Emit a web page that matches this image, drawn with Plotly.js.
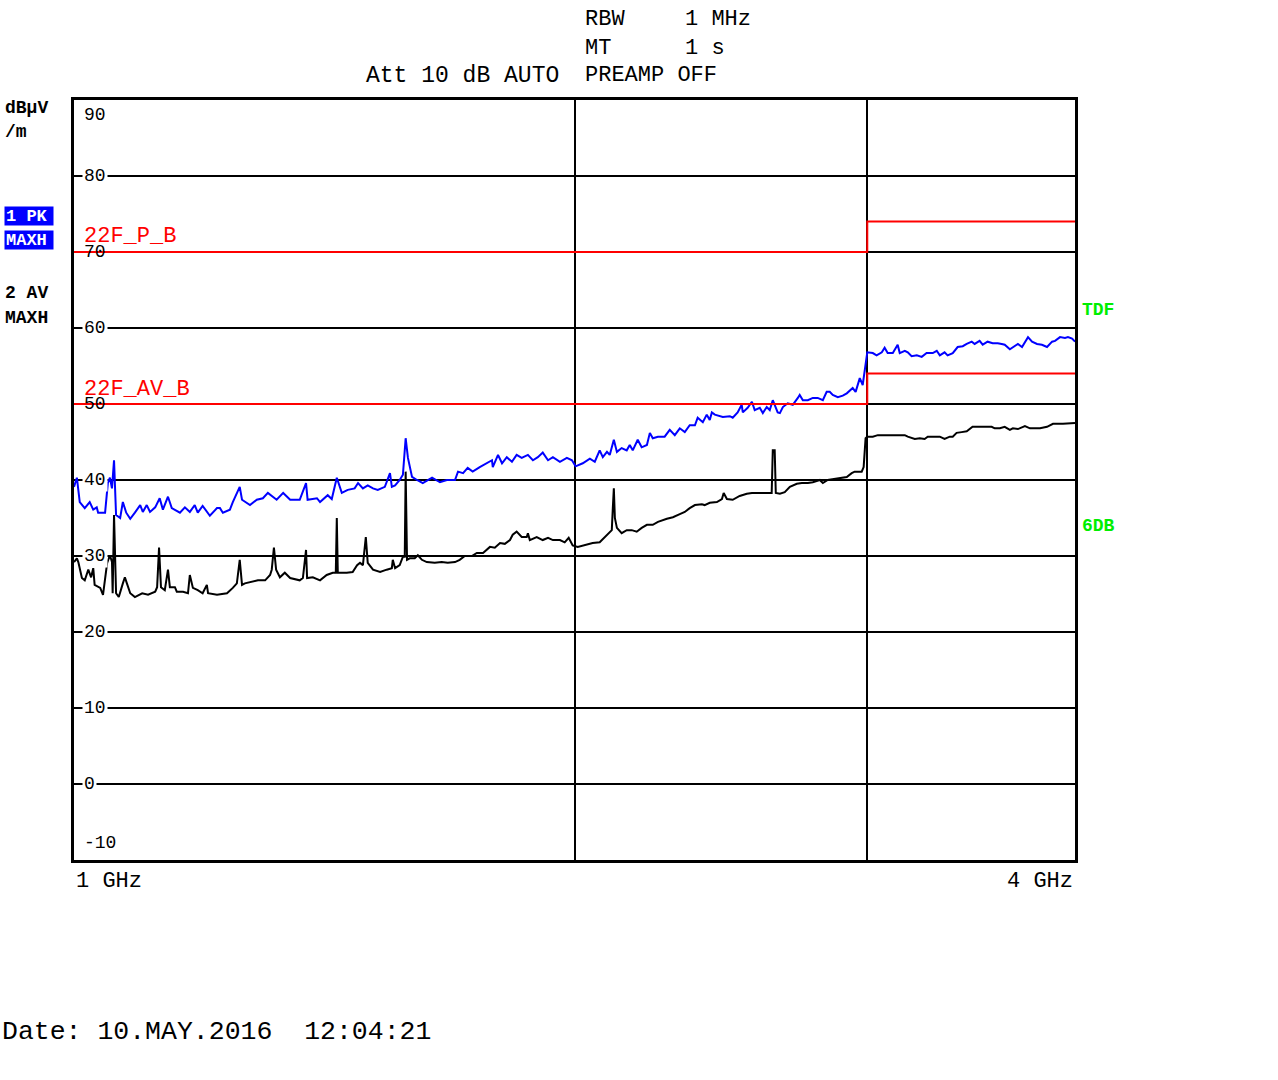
<!DOCTYPE html>
<html><head><meta charset="utf-8">
<script src="https://cdn.plot.ly/plotly-3.0.1.min.js"></script>
<style>html,body{margin:0;padding:0;background:#fff}#chart{width:1278px;height:1080px}</style>
</head><body><div id="chart"></div>
<script>
// Trace 1: PK MAXH (blue), frequency in GHz, level in dBµV/m
const pkFreqGHz = [
1.000,1.004,1.008,1.015,1.022,1.027,1.032,1.034,1.044,1.048,
1.051,1.054,1.057,1.060,1.066,1.070,1.075,1.081,1.088,1.096,
1.100,1.106,1.111,1.119,1.126,1.131,1.139,1.145,1.158,1.166,
1.174,1.182,1.187,1.195,1.207,1.219,1.224,1.229,1.241,1.246,
1.258,1.262,1.276,1.288,1.299,1.308,1.324,1.336,1.349,1.367,
1.379,1.382,1.400,1.406,1.421,1.429,1.439,1.449,1.461,1.475,
1.482,1.492,1.502,1.513,1.523,1.538,1.549,1.553,1.560,1.570,
1.577,1.583,1.588,1.597,1.608,1.621,1.642,1.660,1.676,1.695,
1.702,1.714,1.725,1.737,1.754,1.771,1.784,1.786,1.799,1.809,
1.821,1.834,1.846,1.859,1.875,1.888,1.901,1.914,1.928,1.941,
1.960,1.979,1.993,2.003,2.023,2.043,2.057,2.071,2.080,2.092,
2.100,2.112,2.121,2.135,2.150,2.159,2.168,2.183,2.195,2.211,
2.220,2.229,2.245,2.266,2.282,2.298,2.314,2.330,2.346,2.363,
2.372,2.389,2.402,2.412,2.419,2.429,2.456,2.480,2.490,2.507,
2.521,2.525,2.542,2.557,2.567,2.585,2.596,2.610,2.621,2.632,
2.639,2.650,2.658,2.669,2.687,2.706,2.725,2.732,2.744,2.763,
2.782,2.801,2.821,2.836,2.848,2.860,2.880,2.900,2.916,2.940,
2.952,2.969,2.981,2.989,2.998,3.000,3.023,3.039,3.061,3.073,
3.086,3.108,3.129,3.138,3.160,3.173,3.190,3.213,3.235,3.257,
3.285,3.303,3.317,3.339,3.353,3.377,3.400,3.424,3.443,3.467,
3.481,3.505,3.520,3.544,3.569,3.594,3.614,3.629,3.655,3.680,
3.696,3.717,3.748,3.769,3.795,3.821,3.848,3.875,3.891,3.918,
3.945,3.961,3.984,4.000];
const pkLevel = [
39.1,40.3,37.1,36.3,37.1,36.1,36.4,35.7,35.7,39.6,
40.3,38.9,42.6,35.4,35.0,37.1,35.7,34.9,35.7,36.7,
35.8,36.7,35.8,36.4,37.6,36.1,37.8,36.3,35.7,36.4,
35.8,36.7,35.7,36.6,35.3,36.3,36.3,35.7,36.1,37.1,
39.1,37.4,36.7,37.4,37.6,38.3,37.4,38.3,37.4,37.4,
39.6,37.4,37.6,37.1,38.0,37.5,40.3,38.3,38.7,38.9,
39.6,38.9,39.3,38.9,38.7,39.1,40.9,39.1,39.3,40.0,
40.7,45.5,42.9,40.4,40.0,39.6,40.3,39.7,40.0,40.0,
41.1,40.9,41.6,41.1,41.7,42.2,42.6,41.7,43.3,42.2,
43.0,42.4,43.3,42.9,43.3,42.6,43.0,43.6,42.6,43.0,
42.4,42.9,42.6,41.8,42.2,42.8,42.4,43.9,43.0,43.7,
43.3,45.3,43.7,44.2,43.9,44.6,43.9,45.3,44.3,44.6,
46.2,45.5,45.7,45.7,46.6,45.9,46.8,46.3,47.2,47.2,
48.2,47.6,48.6,47.9,48.9,48.6,48.3,48.4,48.2,48.9,
49.9,48.9,49.5,50.3,49.2,49.5,48.8,49.6,49.2,50.5,
49.9,48.9,48.8,49.6,50.1,49.9,50.8,51.2,50.5,50.5,
50.8,50.8,50.5,51.6,51.6,51.2,50.9,51.1,51.4,52.1,
51.6,53.4,52.5,54.5,56.2,56.8,56.7,56.4,56.8,57.4,
56.7,56.7,57.8,56.7,57.0,56.8,56.3,56.4,56.2,56.7,
56.7,57.0,56.4,56.8,56.4,56.7,57.5,57.6,57.9,58.2,
57.9,58.3,57.8,58.2,58.0,58.0,57.9,57.8,57.2,57.6,
57.9,57.5,58.8,58.2,57.9,57.8,57.5,58.2,58.3,58.8,
58.7,58.8,58.6,58.2];

// Trace 2: AV MAXH (black)
const avFreqGHz = [
1.000,1.004,1.006,1.011,1.015,1.020,1.024,1.027,1.029,1.037,
1.041,1.047,1.051,1.054,1.055,1.057,1.060,1.064,1.070,1.073,
1.076,1.081,1.088,1.099,1.108,1.119,1.122,1.125,1.128,1.134,
1.139,1.142,1.150,1.153,1.163,1.171,1.174,1.179,1.187,1.195,
1.202,1.204,1.219,1.236,1.246,1.253,1.258,1.262,1.267,1.279,
1.290,1.303,1.312,1.315,1.319,1.323,1.330,1.339,1.349,1.367,
1.373,1.379,1.381,1.392,1.406,1.419,1.431,1.437,1.439,1.441,
1.459,1.471,1.480,1.486,1.492,1.498,1.502,1.513,1.528,1.542,
1.553,1.555,1.560,1.570,1.577,1.581,1.583,1.586,1.592,1.603,
1.610,1.619,1.630,1.648,1.664,1.678,1.695,1.706,1.718,1.735,
1.747,1.762,1.771,1.779,1.791,1.804,1.816,1.829,1.836,1.846,
1.859,1.872,1.875,1.880,1.898,1.914,1.928,1.941,1.960,1.973,
1.984,1.995,2.009,2.023,2.051,2.071,2.094,2.106,2.109,2.112,
2.115,2.121,2.135,2.150,2.165,2.180,2.195,2.211,2.229,2.245,
2.273,2.292,2.314,2.330,2.346,2.363,2.386,2.395,2.412,2.436,
2.453,2.459,2.470,2.490,2.514,2.539,2.557,2.574,2.596,2.621,
2.628,2.632,2.639,2.643,2.658,2.676,2.695,2.721,2.740,2.763,
2.782,2.809,2.821,2.840,2.888,2.916,2.936,2.948,2.977,2.985,
2.989,2.993,3.000,3.023,3.044,3.082,3.160,3.173,3.204,3.226,
3.248,3.262,3.294,3.317,3.339,3.363,3.377,3.395,3.419,3.443,
3.471,3.520,3.564,3.579,3.605,3.629,3.655,3.670,3.696,3.732,
3.758,3.784,3.811,3.848,3.880,3.934,3.984,4.000];
const avLevel = [
29.2,29.7,29.2,27.1,26.8,28.2,27.2,28.4,26.2,25.8,
24.9,29.1,30.1,29.2,25.1,35.4,25.1,24.6,26.4,27.2,
26.4,25.1,24.6,25.1,24.9,25.3,25.9,31.1,25.9,25.5,
28.2,25.9,25.9,25.3,25.3,25.1,27.5,25.8,25.5,25.1,
26.2,25.1,24.9,25.1,25.8,26.4,29.5,26.2,26.4,26.6,
26.8,26.8,27.5,28.2,31.1,28.2,27.2,27.8,27.1,26.8,
27.1,30.8,27.1,27.2,26.8,27.5,27.8,27.8,35.0,27.8,
27.8,27.9,28.8,29.1,28.8,32.5,29.1,28.2,27.9,28.2,
28.4,29.5,28.4,28.8,29.9,29.9,41.1,29.5,29.7,29.7,
30.1,29.5,29.2,29.1,29.2,29.1,29.2,29.5,30.0,30.0,
30.4,30.4,30.8,31.2,31.1,31.7,31.6,32.1,32.8,33.2,
32.5,32.5,33.0,32.1,32.5,32.1,32.4,32.1,32.1,31.8,
32.4,31.4,31.2,31.4,31.7,31.8,32.8,33.4,36.3,38.9,
35.0,33.7,33.0,33.4,33.4,33.2,33.7,34.1,34.1,34.5,
34.9,35.1,35.5,35.8,36.3,36.7,36.8,36.7,37.0,37.1,
37.5,38.3,37.5,37.4,37.9,38.2,38.3,38.3,38.3,38.3,
38.3,43.9,43.9,38.3,38.2,38.4,39.1,39.5,39.6,39.6,
39.7,40.0,39.6,40.0,40.3,40.4,40.9,41.1,41.1,41.7,
43.6,45.5,45.7,45.7,45.9,45.9,45.9,45.7,45.4,45.5,
45.4,45.7,45.7,45.7,45.4,45.7,45.7,46.2,46.3,46.4,
47.0,47.0,47.0,46.8,46.8,47.0,46.6,46.8,46.7,47.1,
46.8,46.8,46.8,47.0,47.4,47.4,47.5,47.5];

// Limit lines
const limitFreqGHz = [1, 3, 3, 4];
const limitPeak = [70, 70, 74, 74];
const limitAvg = [50, 50, 54, 54];
const limitPeakName = '22F_P_B';
const limitAvgName = '22F_AV_B';

// Axis
const yGridVals = [0, 10, 20, 30, 40, 50, 60, 70, 80];
const yTickLabels = ['90','80','70','60','50','40','30','20','10','0','-10'];
const yTickLabelVals = [90, 80, 70, 60, 50, 40, 30, 20, 10, 0, -10];
const xGridVals = [2, 3];
const xStartLabel = '1 GHz';
const xStopLabel = '4 GHz';

const MONO = 'Liberation Mono, DejaVu Sans Mono, monospace';
const L = 74, T = 100, W = 1001, H = 760;

function ann(text, px, py, o) {
  o = o || {};
  return Object.assign({
    text: text, xref: 'paper', yref: 'paper',
    x: (px - L) / W, y: (T + H - py) / H,
    xanchor: 'left', yanchor: 'middle', showarrow: false,
    font: {family: MONO, size: o.size || 18, color: o.color || '#000'}
  }, o.extra || {});
}

const annotations = [];
// header
annotations.push(ann('RBW', 583, 20, {size: 22}));
annotations.push(ann('1 MHz', 683, 20, {size: 22}));
annotations.push(ann('MT', 583, 48, {size: 22}));
annotations.push(ann('1 s', 683, 48, {size: 22}));
annotations.push(ann('Att 10 dB AUTO', 364, 76, {size: 23}));
annotations.push(ann('PREAMP OFF', 583, 76, {size: 22}));
// left side labels
annotations.push(ann('<b>dBµV</b>', 3, 108, {size: 18}));
annotations.push(ann('<b>/m</b>', 3, 132, {size: 18}));
annotations.push(ann('<b>1 PK</b>', 4, 216, {size: 17, color: '#fff', extra: {bgcolor: '#0000ff', width: 46, height: 16, align: 'left', borderpad: 1}}));
annotations.push(ann('<b>MAXH</b>', 4, 240, {size: 17, color: '#fff', extra: {bgcolor: '#0000ff', width: 46, height: 16, align: 'left', borderpad: 1}}));
annotations.push(ann('<b>2 AV</b>', 3, 293, {size: 18}));
annotations.push(ann('<b>MAXH</b>', 3, 318, {size: 18}));
// right side
annotations.push(ann('<b>TDF</b>', 1080, 310, {size: 18, color: '#00ee00'}));
annotations.push(ann('<b>6DB</b>', 1080, 526, {size: 18, color: '#00ee00'}));
// x labels
annotations.push(ann(xStartLabel, 74, 881, {size: 22}));
annotations.push(Object.assign(ann(xStopLabel, 1075, 881, {size: 22}), {xanchor: 'right'}));
// date
annotations.push(ann('Date: 10.MAY.2016  12:04:21', 0, 1032, {size: 26.5}));
// y tick labels inside plot
yTickLabels.forEach((t, i) => {
  const v = yTickLabelVals[i];
  let py = T + (90 - v) / 100 * H;
  if (v === 90) py = 115;
  if (v === -10) py = 843;
  const onGrid = v < 90 && v > -10 && v !== 70 && v !== 50;
  const a = ann(t, 82, py, {size: 18});
  if (onGrid) { a.bgcolor = '#fff'; a.borderpad = 1; }
  annotations.push(a);
});
// limit line names
annotations.push(ann(limitPeakName, 82, 237, {size: 22, color: '#ff0000'}));
annotations.push(ann(limitAvgName, 82, 389, {size: 22, color: '#ff0000'}));

const traces = [
  {x: pkFreqGHz, y: pkLevel, type: 'scatter', mode: 'lines', line: {color: '#0000ff', width: 2}, name: '1 PK MAXH'},
  {x: avFreqGHz, y: avLevel, type: 'scatter', mode: 'lines', line: {color: '#000000', width: 2}, name: '2 AV MAXH'},
  {x: limitFreqGHz, y: limitPeak, type: 'scatter', mode: 'lines', line: {color: '#ff0000', width: 2}, name: limitPeakName},
  {x: limitFreqGHz, y: limitAvg, type: 'scatter', mode: 'lines', line: {color: '#ff0000', width: 2}, name: limitAvgName}
];

const layout = {
  width: 1278, height: 1080,
  margin: {l: L, r: 1278 - L - W, t: T, b: 1080 - T - H, pad: 0},
  paper_bgcolor: '#fff', plot_bgcolor: '#fff',
  showlegend: false,
  xaxis: {type: 'log', range: [0, Math.log10(4)], tickvals: xGridVals, showticklabels: false, ticks: '',
          showgrid: true, gridcolor: '#000', gridwidth: 2, zeroline: false,
          showline: true, mirror: true, linecolor: '#000', linewidth: 3, fixedrange: true},
  yaxis: {range: [-10, 90], tickvals: yGridVals, showticklabels: false, ticks: '',
          showgrid: true, gridcolor: '#000', gridwidth: 2, zeroline: false,
          showline: true, mirror: true, linecolor: '#000', linewidth: 3, fixedrange: true},
  annotations: annotations
};

Plotly.newPlot('chart', traces, layout, {displayModeBar: false, staticPlot: true});
</script>
</body></html>
